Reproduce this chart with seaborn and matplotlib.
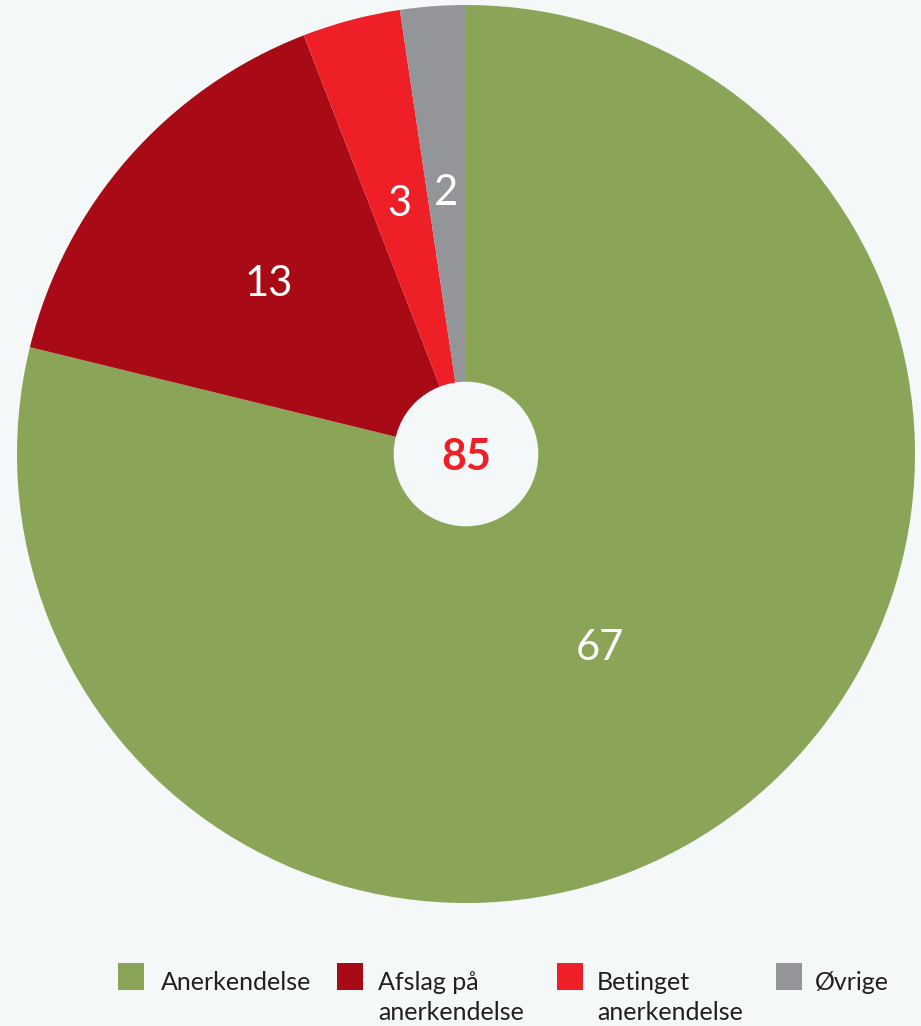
import numpy as np
import seaborn as sns
import matplotlib.pyplot as plt
from matplotlib.patches import Circle, Rectangle

# Data
categories = ["Anerkendelse", "Afslag på\nanerkendelse", "Betinget\nanerkendelse", "Øvrige"]
values = [67, 13, 3, 2]
colors = ["#8BA558", "#A90B16", "#EE1F27", "#939598"]

bg = "#F4F8F9"
sns.set_theme(style="white")
plt.rcParams["font.family"] = ["Lato", "DejaVu Sans"]

fig = plt.figure(figsize=(9.21, 10.26), dpi=100, facecolor=bg)
ax = fig.add_axes([17 / 921, 123 / 1026, 898 / 921, 898 / 1026])
ax.set_facecolor(bg)

wedges, _ = ax.pie(values, colors=colors, startangle=90, counterclock=False,
                   radius=1, wedgeprops=dict(linewidth=0))
ax.set_xlim(-1, 1)
ax.set_ylim(-1, 1)
ax.set_aspect("equal")
ax.axis("off")

# value labels inside the slices (radius, angle nudge in degrees)
label_r = [0.52, 0.585, 0.585, 0.59]
label_da = [-3.0, 0, 0, 0]
for w, v, r, da in zip(wedges, values, label_r, label_da):
    mid = np.deg2rad((w.theta1 + w.theta2) / 2 + da)
    ax.text(r * np.cos(mid), r * np.sin(mid), str(v), color="white",
            fontsize=30, ha="center", va="center_baseline")

# total in the middle
ax.add_patch(Circle((0, 0), 0.161, facecolor=bg, edgecolor="none", zorder=3))
ax.text(0, 0, str(sum(values)), color="#EE1F27", fontsize=31, fontweight="bold",
        ha="center", va="center_baseline", zorder=4)

# legend
sq_x = [118, 337, 557, 776]
txt_x = [161, 378, 597, 815]
for c, lab, sx, tx in zip(colors, categories, sq_x, txt_x):
    fig.add_artist(Rectangle((sx / 921, 1 - 990 / 1026), 26 / 921, 27 / 1026,
                             transform=fig.transFigure, facecolor=c, edgecolor="none"))
    lines = lab.split("\n")
    for i, line in enumerate(lines):
        fig.text(tx / 921, 1 - (990 + 30 * i) / 1026, line, color="#231F20",
                 fontsize=18, ha="left", va="baseline")

fig.savefig("out.png", dpi=100, facecolor=bg)
